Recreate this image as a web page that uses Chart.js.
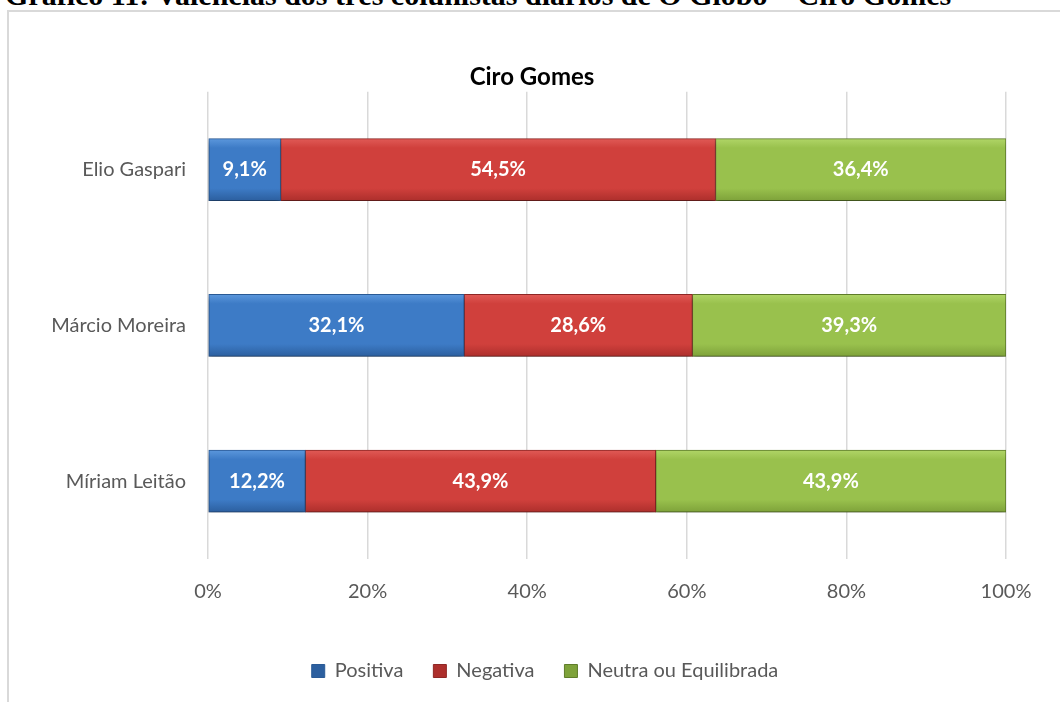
<!DOCTYPE html>
<html>
<head>
<meta charset="utf-8">
<script src="https://cdn.jsdelivr.net/npm/chart.js@4"></script>
<style>
  body { margin: 0; background: #fff; width: 1060px; height: 702px; overflow: hidden; position: relative; }
  #caption { position: absolute; left: 5px; top: -20px; font: bold 30px/1 "Liberation Serif", "Times New Roman", serif; color: #000; white-space: nowrap; }
  #frame { position: absolute; left: 7px; top: 10px; width: 1100px; height: 750px; border: 2px solid #d9d9d9; box-sizing: border-box; }
  #wrap { position: absolute; left: 0; top: 0; width: 1060px; height: 702px; }
</style>
</head>
<body>
<div id="caption">Gráfico 11: Valências dos três colunistas diários de O Globo – Ciro Gomes</div>
<div id="frame"></div>
<div id="wrap"><canvas id="grafico"></canvas></div>
<script>
const categorias = ['Elio Gaspari', 'Márcio Moreira', 'Míriam Leitão'];
const positiva = [9.1, 32.1, 12.2];
const negativa = [54.5, 28.6, 43.9];
const neutra = [36.4, 39.3, 43.9];
const xTicks = [0, 20, 40, 60, 80, 100];

const fonte = 'Lato, "Open Sans", sans-serif';

// cores: topo claro, meio, base escura, borda
const cores = {
    azul: ['#5b97dc', '#3d7bc6', '#2c5f9f', '#2a5a96'],
    vermelho: ['#e05a56', '#d0403c', '#ad2f2c', '#8f2725'],
    verde: ['#b0d567', '#99c14d', '#7ea23a', '#5f7d2a']
};

function gradiente(c) {
    return function(ctx) {
        const chart = ctx.chart;
        if (!chart.chartArea || !chart.scales.y) return c[1];
        const y = chart.scales.y.getPixelForValue(ctx.dataIndex);
        const g = chart.ctx.createLinearGradient(0, y - 31, 0, y + 31);
        g.addColorStop(0, c[0]);
        g.addColorStop(0.15, c[1]);
        g.addColorStop(0.8, c[1]);
        g.addColorStop(1, c[2]);
        return g;
    };
}

function fmt(v) {
    return v.toFixed(1).replace('.', ',') + '%';
}

const ajustes = {
    id: 'ajustes',
    afterLayout(chart) {
        // título e legenda centrados como no original
        const t = chart.titleBlock;
        const tx = 532 - (t.left + t.right) / 2;
        t.left += tx;
        t.right += tx;

        const lg = chart.legend;
        const dx = 545 - (lg.left + lg.right) / 2;
        lg.left += dx;
        lg.right += dx;
        const h = lg.bottom - lg.top;
        lg.top = 673 - 30 - 12;
        lg.bottom = lg.top + h;
    },
    beforeDatasetsDraw(chart) {
        const c = chart.ctx;
        c.save();
        c.shadowColor = 'rgba(0,0,0,0.35)';
        c.shadowBlur = 5;
        c.shadowOffsetY = 4;
    },
    afterDatasetsDraw(chart) {
        chart.ctx.restore();
    }
};

const rotulos = {
    id: 'rotulos',
    afterDatasetsDraw(chart) {
        const c = chart.ctx;
        c.save();
        c.fillStyle = '#ffffff';
        c.font = 'bold 20px ' + fonte;
        c.textAlign = 'center';
        c.textBaseline = 'middle';
        chart.data.datasets.forEach((ds, i) => {
            chart.getDatasetMeta(i).data.forEach((bar, j) => {
                const cx = (bar.x + bar.base) / 2;
                c.fillText(fmt(ds.data[j]), cx, bar.y);
            });
        });
        c.restore();
    }
};

new Chart(document.getElementById('grafico'), {
    type: 'bar',
    data: {
        labels: categorias,
        datasets: [
            { label: 'Positiva', data: positiva, backgroundColor: gradiente(cores.azul), borderColor: cores.azul[3] },
            { label: 'Negativa', data: negativa, backgroundColor: gradiente(cores.vermelho), borderColor: cores.vermelho[3] },
            { label: 'Neutra ou Equilibrada', data: neutra, backgroundColor: gradiente(cores.verde), borderColor: cores.verde[3] }
        ]
    },
    options: {
        indexAxis: 'y',
        responsive: true,
        maintainAspectRatio: false,
        animation: false,
        datasets: {
            bar: { barThickness: 62, borderWidth: 1, borderSkipped: false }
        },
        layout: { padding: { top: 63, left: 0, right: 54, bottom: 0 } },
        scales: {
            x: {
                stacked: true,
                min: 0,
                max: 100,
                afterBuildTicks(scale) { scale.ticks = xTicks.map(v => ({ value: v })); },
                afterFit(scale) { scale.height = 702 - 559 - scale.chart.legend.height; },
                grid: { color: '#d9d9d9', lineWidth: 1.5, drawTicks: false },
                border: { display: false },
                ticks: {
                    padding: 21,
                    color: '#595959',
                    font: { family: fonte, size: 20 },
                    callback: v => v + '%'
                }
            },
            y: {
                stacked: true,
                afterFit(scale) { scale.width = 208; },
                grid: { display: false, drawTicks: false },
                border: { display: false },
                ticks: {
                    padding: 22,
                    color: '#595959',
                    font: { family: fonte, size: 20 }
                }
            }
        },
        plugins: {
            title: {
                display: true,
                text: 'Ciro Gomes',
                color: '#000',
                font: { family: fonte, size: 24, weight: 'bold', lineHeight: 1.2 },
                padding: { top: 0, bottom: 0 }
            },
            legend: {
                position: 'bottom',
                labels: {
                    boxWidth: 13,
                    boxHeight: 13,
                    padding: 30,
                    color: '#595959',
                    font: { family: fonte, size: 20 }
                }
            },
            tooltip: { enabled: false }
        }
    },
    plugins: [ajustes, rotulos]
});
</script>
</body>
</html>
